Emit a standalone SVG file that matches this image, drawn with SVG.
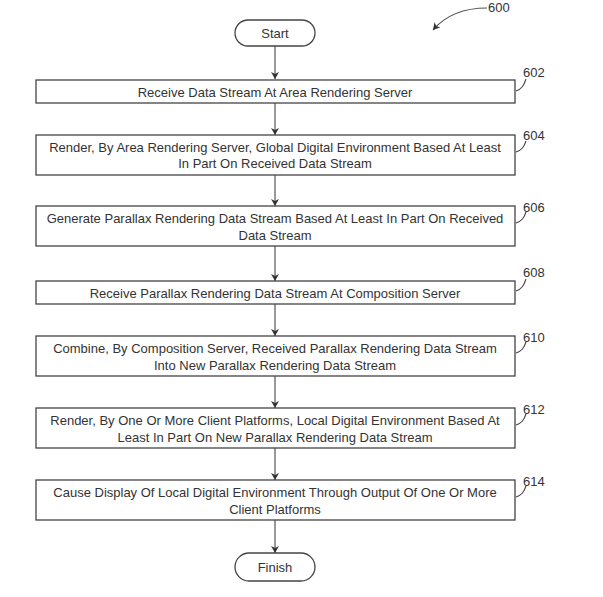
<svg xmlns="http://www.w3.org/2000/svg" width="603" height="597" viewBox="0 0 603 597">
<defs>
<marker id="ah" markerWidth="8" markerHeight="10" refX="7" refY="4" orient="auto" markerUnits="userSpaceOnUse">
<path d="M0,0 L7,4 L0,8 L2,4 Z" fill="#333"/>
</marker>
<style>
.box{fill:#fff;stroke:#444;stroke-width:1.3}
.t{font-family:"Liberation Sans",Arial,sans-serif;font-size:13px;fill:#333;text-anchor:middle}
.ref{font-family:"Liberation Sans",Arial,sans-serif;font-size:13px;fill:#333}
.ld{fill:none;stroke:#444;stroke-width:1.1}
.c{fill:none;stroke:#555;stroke-width:1.2}
</style>
</defs>
<rect width="603" height="597" fill="#fff"/>
<g id="connectors">
<line class="c" x1="275" y1="46" x2="275" y2="79" marker-end="url(#ah)"/>
<line class="c" x1="275" y1="103" x2="275" y2="135" marker-end="url(#ah)"/>
<line class="c" x1="275" y1="175" x2="275" y2="206" marker-end="url(#ah)"/>
<line class="c" x1="275" y1="246" x2="275" y2="281" marker-end="url(#ah)"/>
<line class="c" x1="275" y1="304" x2="275" y2="336" marker-end="url(#ah)"/>
<line class="c" x1="275" y1="376" x2="275" y2="408" marker-end="url(#ah)"/>
<line class="c" x1="275" y1="448" x2="275" y2="480" marker-end="url(#ah)"/>
<line class="c" x1="275" y1="520" x2="275" y2="553" marker-end="url(#ah)"/>
<path class="c" d="M487,8 C462,8 445,16 433,30" marker-end="url(#ah)"/>
</g>
<g id="ref600"><text class="ref" x="488" y="12">600</text></g>
<g id="start">
<rect class="box" x="235" y="20" width="80" height="26" rx="13"/>
<text class="t" x="275" y="37.5">Start</text>
</g>
<g id="n602">
<rect class="box" x="36" y="80" width="479" height="23"/>
<text class="t" x="275" y="96.5">Receive Data Stream At Area Rendering Server</text>
<path class="ld" d="M516,91 C522,89 524,85 526,79"/>
<text class="ref" x="523" y="77">602</text>
</g>
<g id="n604">
<rect class="box" x="36" y="135" width="479" height="40"/>
<text class="t" x="275" y="151.5">Render, By Area Rendering Server, Global Digital Environment Based At Least</text>
<text class="t" x="275" y="168">In Part On Received Data Stream</text>
<path class="ld" d="M516,152 C522,150 524,147 526,141"/>
<text class="ref" x="523" y="140">604</text>
</g>
<g id="n606">
<rect class="box" x="36" y="206" width="479" height="40"/>
<text class="t" x="275" y="223">Generate Parallax Rendering Data Stream Based At Least In Part On Received</text>
<text class="t" x="275" y="240">Data Stream</text>
<path class="ld" d="M516,223 C522,221 524,218 526,212"/>
<text class="ref" x="523" y="212">606</text>
</g>
<g id="n608">
<rect class="box" x="36" y="281" width="479" height="23"/>
<text class="t" x="275" y="297.5">Receive Parallax Rendering Data Stream At Composition Server</text>
<path class="ld" d="M516,291 C522,289 524,285 526,279"/>
<text class="ref" x="523" y="277">608</text>
</g>
<g id="n610">
<rect class="box" x="36" y="336" width="479" height="40"/>
<text class="t" x="275" y="353">Combine, By Composition Server, Received Parallax Rendering Data Stream</text>
<text class="t" x="275" y="370">Into New Parallax Rendering Data Stream</text>
<path class="ld" d="M516,353 C522,351 524,348 526,342"/>
<text class="ref" x="523" y="342">610</text>
</g>
<g id="n612">
<rect class="box" x="36" y="408" width="479" height="40"/>
<text class="t" x="275" y="425">Render, By One Or More Client Platforms, Local Digital Environment Based At</text>
<text class="t" x="275" y="442">Least In Part On New Parallax Rendering Data Stream</text>
<path class="ld" d="M516,425 C522,423 524,420 526,414"/>
<text class="ref" x="523" y="414">612</text>
</g>
<g id="n614">
<rect class="box" x="36" y="480" width="479" height="40"/>
<text class="t" x="275" y="497">Cause Display Of Local Digital Environment Through Output Of One Or More</text>
<text class="t" x="275" y="514">Client Platforms</text>
<path class="ld" d="M516,497 C522,495 524,492 526,486"/>
<text class="ref" x="523" y="486">614</text>
</g>
<g id="finish">
<rect class="box" x="235" y="553" width="80" height="28" rx="14"/>
<text class="t" x="275" y="571.5">Finish</text>
</g>
</svg>
